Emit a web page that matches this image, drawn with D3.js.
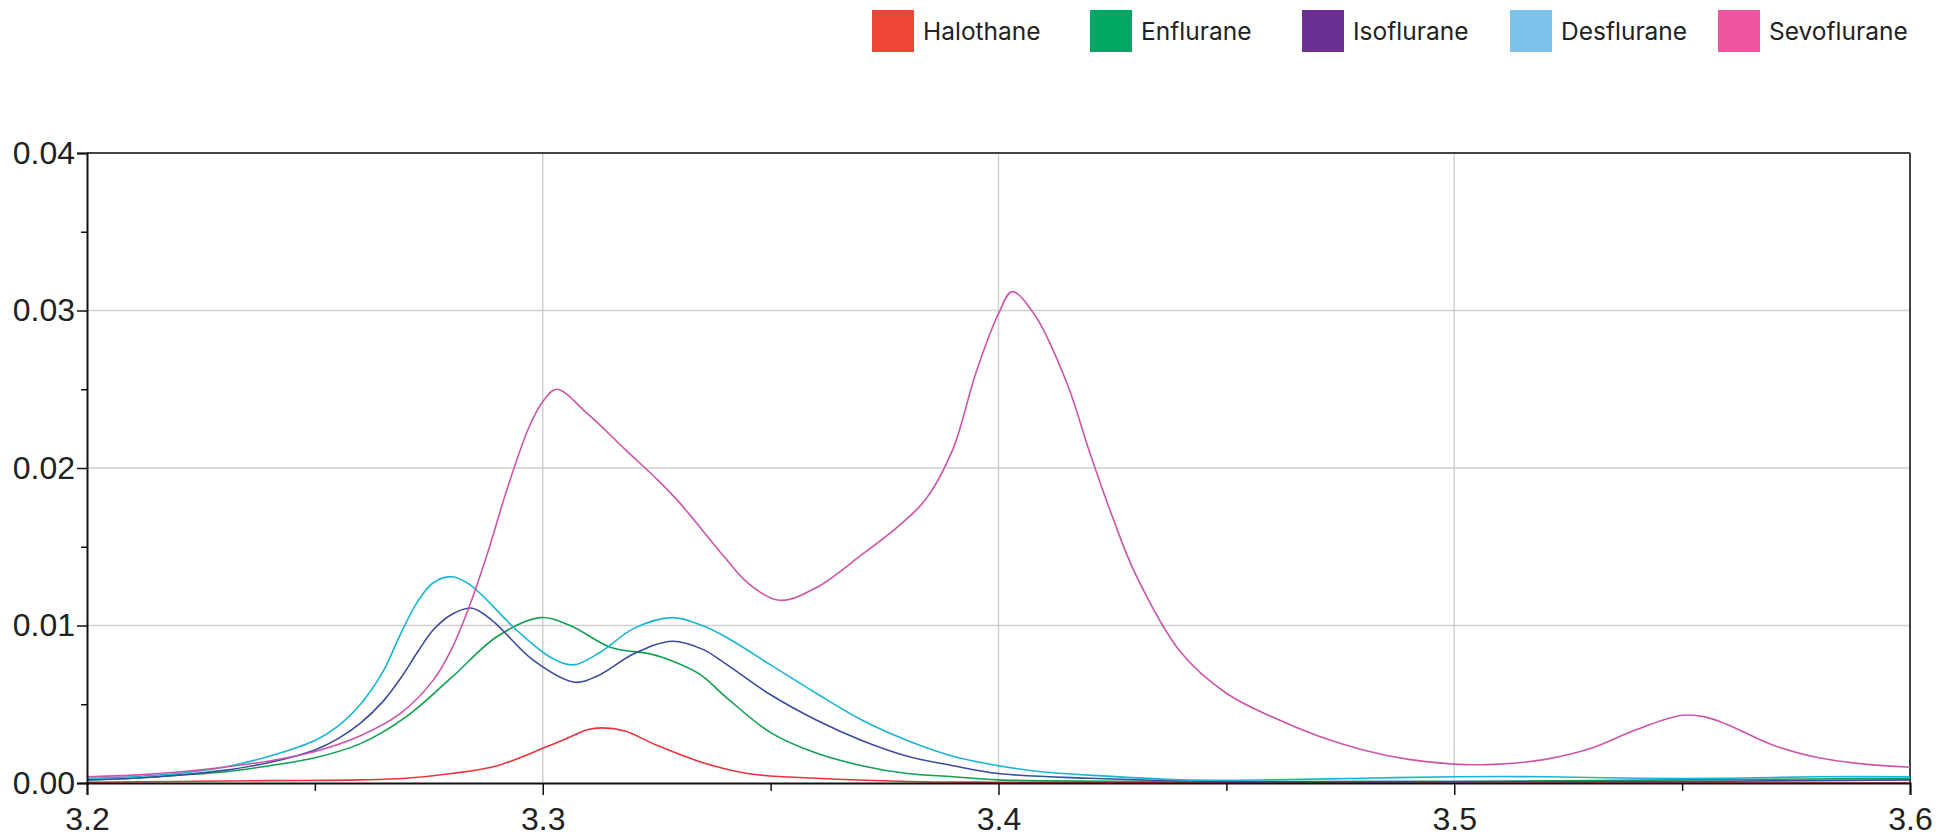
<!DOCTYPE html>
<html>
<head>
<meta charset="utf-8">
<script src="https://cdn.jsdelivr.net/npm/d3@7"></script>
<style>
  body { margin: 0; background: #fff; }
  svg { display: block; }
  .axis text { font-family: "Liberation Sans", Arial, sans-serif; font-size: 32px; fill: #222; }
  .legend text { font-family: Inter, "Noto Sans", sans-serif; font-size: 24.5px; fill: #222; }
</style>
</head>
<body>
<svg id="chart" width="1959" height="837"></svg>
<script>
// series: [wavelength (um), absorbance]
const seriesNames = ["Halothane", "Enflurane", "Isoflurane", "Desflurane", "Sevoflurane"];
const legendColors = ["#f04638", "#00a864", "#6b2f94", "#7cc2ec", "#ef55a0"];
const lineColors = ["#e8323c", "#10a050", "#3a4c9c", "#1ab4d4", "#cc55aa"];

const halothane = [[3.2,0.00005],[3.22,0.0001],[3.24,0.00015],[3.26,0.0002],[3.27,0.0003],[3.28,0.0006],
  [3.29,0.0011],[3.3,0.0022],[3.305,0.0028],[3.31,0.0034],[3.313,0.0035],[3.318,0.0033],[3.325,0.0024],
  [3.335,0.0013],[3.345,0.0006],[3.36,0.0003],[3.38,0.0001],[3.4,0.00005],[3.5,0],[3.6,0]];

const enflurane = [[3.2,0.0002],[3.21,0.0003],[3.22,0.0005],[3.23,0.0007],[3.24,0.0011],[3.25,0.0016],
  [3.26,0.0025],[3.27,0.0042],[3.28,0.0067],[3.29,0.0093],[3.2994,0.0105],[3.306,0.0100],
  [3.315,0.0086],[3.3235,0.0082],[3.327,0.0079],[3.3345,0.0069],[3.34,0.0055],[3.35,0.0032],[3.36,0.0019],
  [3.37,0.0011],[3.38,0.0006],[3.39,0.0004],[3.4,0.0002],[3.45,0.0001],[3.5,0.0001],[3.55,0.0002],[3.6,0.0003]];

const isoflurane = [[3.2,0.0002],[3.21,0.0003],[3.22,0.0005],[3.23,0.0008],[3.24,0.0013],[3.25,0.0021],
  [3.255,0.0028],[3.26,0.0038],[3.265,0.0052],[3.2687,0.0066],[3.2725,0.0083],[3.2759,0.0097],[3.28,0.0107],
  [3.2845,0.0111],[3.289,0.0103],[3.2979,0.0078],[3.307,0.0064],
  [3.312,0.0068],[3.32,0.0082],[3.3284,0.009],[3.335,0.0085],[3.34,0.0076],[3.35,0.0056],[3.36,0.004],
  [3.37,0.0027],[3.38,0.0017],[3.39,0.0011],[3.4,0.0006],[3.42,0.0003],[3.45,0.0001],[3.5,0.0001],
  [3.55,0.0001],[3.6,0.0002]];

const desflurane = [[3.2,0.0003],[3.21,0.0004],[3.22,0.0006],[3.23,0.001],[3.24,0.0017],[3.25,0.0027],
  [3.255,0.0036],[3.26,0.005],[3.265,0.0071],[3.2687,0.0094],[3.2725,0.0115],[3.2759,0.0127],[3.28,0.0131],
  [3.284,0.0126],[3.2943,0.0097],[3.3016,0.008],
  [3.3067,0.0075],[3.3126,0.0083],[3.3199,0.0098],[3.3284,0.0105],[3.335,0.01],[3.34,0.0093],[3.35,0.0075],
  [3.36,0.0057],[3.37,0.004],[3.38,0.0027],[3.39,0.0017],[3.4,0.0011],[3.41,0.0007],[3.42,0.0005],
  [3.44,0.0002],[3.46,0.0002],[3.48,0.0003],[3.5,0.0004],[3.52,0.0004],[3.54,0.0003],[3.56,0.0003],
  [3.58,0.0004],[3.6,0.0004]];

const sevoflurane = [[3.2,0.0004],[3.21,0.0005],[3.22,0.0007],[3.23,0.001],[3.24,0.0014],[3.25,0.002],
  [3.26,0.003],[3.2687,0.0044],[3.2759,0.0065],[3.28,0.0085],[3.284,0.0113],[3.288,0.0147],[3.292,0.0185],
  [3.297,0.0226],[3.3,0.0242],[3.303,0.025],[3.31,0.0234],[3.318,0.0212],[3.325,0.0193],[3.33,0.0178],
  [3.34,0.0143],[3.345,0.0127],[3.352,0.0116],[3.36,0.0124],[3.37,0.0145],[3.378,0.0163],[3.384,0.018],
  [3.39,0.0212],[3.395,0.026],[3.4,0.0298],[3.403,0.0312],[3.408,0.0297],[3.415,0.0254],[3.42,0.021],
  [3.425,0.0169],[3.43,0.0133],[3.44,0.0083],
  [3.45,0.0057],[3.46,0.0042],[3.47,0.003],[3.48,0.0021],[3.49,0.0015],[3.5,0.0012],[3.51,0.0012],
  [3.52,0.0015],[3.53,0.0022],[3.54,0.0034],[3.55,0.0043],[3.555,0.0042],[3.56,0.0037],[3.57,0.0024],
  [3.58,0.0016],[3.59,0.0012],[3.6,0.001]];

const xTicks = [3.2, 3.3, 3.4, 3.5, 3.6];
const xMinorTicks = [3.25, 3.35, 3.45, 3.55];
const yTicks = [0, 0.01, 0.02, 0.03, 0.04];
const yMinorTicks = [0.005, 0.015, 0.025, 0.035];

const allSeries = [halothane, enflurane, isoflurane, desflurane, sevoflurane];

const svg = d3.select("svg#chart");
const width = 1959, height = 837;
const margin = { top: 153, right: 49, bottom: 54, left: 87 };
const innerW = width - margin.left - margin.right;
const innerH = height - margin.top - margin.bottom;

const x = d3.scaleLinear().domain([3.2, 3.6]).range([0, innerW]);
const y = d3.scaleLinear().domain([0, 0.04]).range([innerH, 0]);

const g = svg.append("g").attr("transform", `translate(${margin.left},${margin.top})`);

// gridlines
g.append("g").selectAll("line.vg")
  .data(xTicks.slice(1, -1))
  .join("line")
  .attr("x1", d => x(d)).attr("x2", d => x(d))
  .attr("y1", 0).attr("y2", innerH)
  .attr("stroke", "#d0d0d0").attr("stroke-width", 1.5);
g.append("g").selectAll("line.hg")
  .data(yTicks.slice(1, -1))
  .join("line")
  .attr("x1", 0).attr("x2", innerW)
  .attr("y1", d => y(d)).attr("y2", d => y(d))
  .attr("stroke", "#d0d0d0").attr("stroke-width", 1.5);

// top and right frame
g.append("line").attr("x1", 0).attr("x2", innerW).attr("y1", 0).attr("y2", 0)
  .attr("stroke", "#444").attr("stroke-width", 2);
g.append("line").attr("x1", innerW).attr("x2", innerW).attr("y1", 0).attr("y2", innerH)
  .attr("stroke", "#444").attr("stroke-width", 2);

// lines
const line = d3.line()
  .x(d => x(d[0]))
  .y(d => y(Math.max(0, d[1])))
  .curve(d3.curveCatmullRom.alpha(0.5));

g.append("g").selectAll("path")
  .data(allSeries)
  .join("path")
  .attr("d", line)
  .attr("fill", "none")
  .attr("stroke", (d, i) => lineColors[i])
  .attr("stroke-width", 1.6);

// axes
g.append("g").attr("class", "axis")
  .call(d3.axisLeft(y).tickValues(yTicks).tickFormat(d3.format(".2f")).tickSize(10).tickPadding(2));
g.append("g").attr("class", "axis")
  .call(d3.axisLeft(y).tickValues(yMinorTicks).tickFormat("").tickSize(6))
  .select(".domain").remove();

g.append("g").attr("class", "axis")
  .attr("transform", `translate(0,${innerH})`)
  .call(d3.axisBottom(x).tickValues(xTicks).tickFormat(d3.format(".1f")).tickSize(12).tickPadding(12));
g.append("g").attr("class", "axis")
  .attr("transform", `translate(0,${innerH})`)
  .call(d3.axisBottom(x).tickValues(xMinorTicks).tickFormat("").tickSize(8))
  .select(".domain").remove();

g.selectAll(".axis .domain").attr("stroke", "#111").attr("stroke-width", 2);
g.selectAll(".axis .tick line").attr("stroke", "#111").attr("stroke-width", 1.5);

// legend
const legendX = [872, 1090, 1302, 1510, 1718];
const legend = svg.append("g").attr("class", "legend");
const items = legend.selectAll("g")
  .data(seriesNames)
  .join("g")
  .attr("transform", (d, i) => `translate(${legendX[i]},10)`);
items.append("rect")
  .attr("width", 42).attr("height", 42)
  .attr("fill", (d, i) => legendColors[i]);
items.append("text")
  .attr("x", 51).attr("y", 30)
  .text(d => d);
</script>
</body>
</html>
